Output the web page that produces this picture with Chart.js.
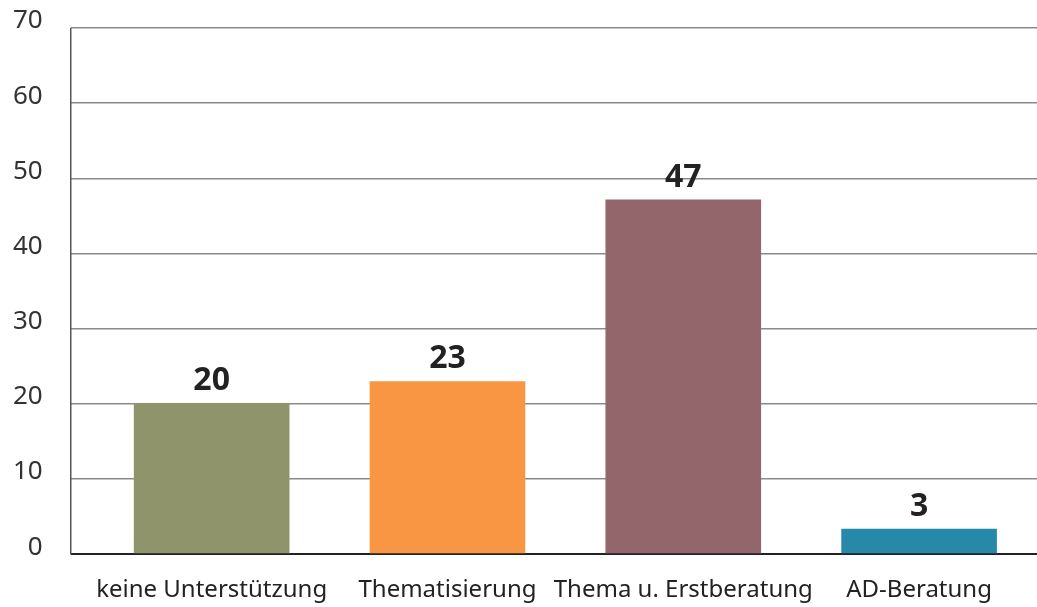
<!DOCTYPE html>
<html>
<head>
<meta charset="utf-8">
<script src="https://cdn.jsdelivr.net/npm/chart.js@4"></script>
<style>
  body { margin: 0; background: #fff; }
  #wrap { width: 1037px; height: 607px; position: relative; }
</style>
</head>
<body>
<div id="wrap"><canvas id="barChart"></canvas></div>
<script>
  // data
  const categories = ['keine Unterstützung', 'Thematisierung', 'Thema u. Erstberatung', 'AD-Beratung'];
  const values = [20.1, 23, 47.2, 3.4];
  const barColors = ['#8f946a', '#f89643', '#93666c', '#2789a9'];
  const yTicks = [0, 10, 20, 30, 40, 50, 60, 70];

  const TICK_LEN = 23;

  // value labels on top of the bars
  const valueLabels = {
    id: 'valueLabels',
    afterDatasetsDraw(chart) {
      const ctx = chart.ctx;
      const meta = chart.getDatasetMeta(0);
      ctx.save();
      ctx.font = 'bold 32px "Noto Sans"';
      ctx.fillStyle = '#222';
      ctx.textAlign = 'center';
      ctx.textBaseline = 'bottom';
      meta.data.forEach((bar, i) => {
        ctx.fillText(Math.round(values[i]), bar.x, bar.y - 6);
      });
      ctx.restore();
    }
  };

  // y axis line sits at the outer end of the tick marks
  const yAxisLine = {
    id: 'yAxisLine',
    afterDraw(chart) {
      const y = chart.scales.y;
      const ctx = chart.ctx;
      const x = chart.chartArea.left - TICK_LEN;
      ctx.save();
      ctx.strokeStyle = '#555';
      ctx.lineWidth = 1.5;
      ctx.beginPath();
      ctx.moveTo(x, y.getPixelForValue(70));
      ctx.lineTo(x, y.getPixelForValue(0));
      ctx.stroke();
      ctx.restore();
    }
  };

  const ctx = document.getElementById('barChart').getContext('2d');
  new Chart(ctx, {
    type: 'bar',
    data: {
      labels: categories,
      datasets: [{
        data: values,
        backgroundColor: barColors,
        barPercentage: 0.66,
        categoryPercentage: 1
      }]
    },
    options: {
      responsive: true,
      maintainAspectRatio: false,
      animation: false,
      layout: { padding: { top: 28, left: -15, right: -16, bottom: -20 } },
      plugins: {
        legend: { display: false },
        tooltip: { enabled: false }
      },
      scales: {
        x: {
          grid: { display: false, drawTicks: false },
          border: { display: false },
          ticks: {
            color: '#222',
            padding: 22,
            maxRotation: 0,
            minRotation: 0,
            autoSkip: false,
            font: { family: 'Noto Sans', size: 24 }
          }
        },
        y: {
          min: 0,
          max: 70,
          afterBuildTicks: (scale) => { scale.ticks = yTicks.map(v => ({ value: v })); },
          // the big tick padding should not push the plot down
          afterFit: (scale) => { scale.paddingTop = 0; scale.paddingBottom = 0; },
          grid: {
            color: (c) => (c.tick && c.tick.value === 0) ? '#222' : '#8a8a8a',
            lineWidth: (c) => (c.tick && c.tick.value === 0) ? 2 : 1.5,
            drawTicks: true,
            tickLength: TICK_LEN
          },
          border: { display: false },
          ticks: {
            color: '#333',
            padding: 28,
            labelOffset: -7,
            font: { family: 'Noto Sans', size: 26 }
          }
        }
      }
    },
    plugins: [valueLabels, yAxisLine]
  });
</script>
</body>
</html>
